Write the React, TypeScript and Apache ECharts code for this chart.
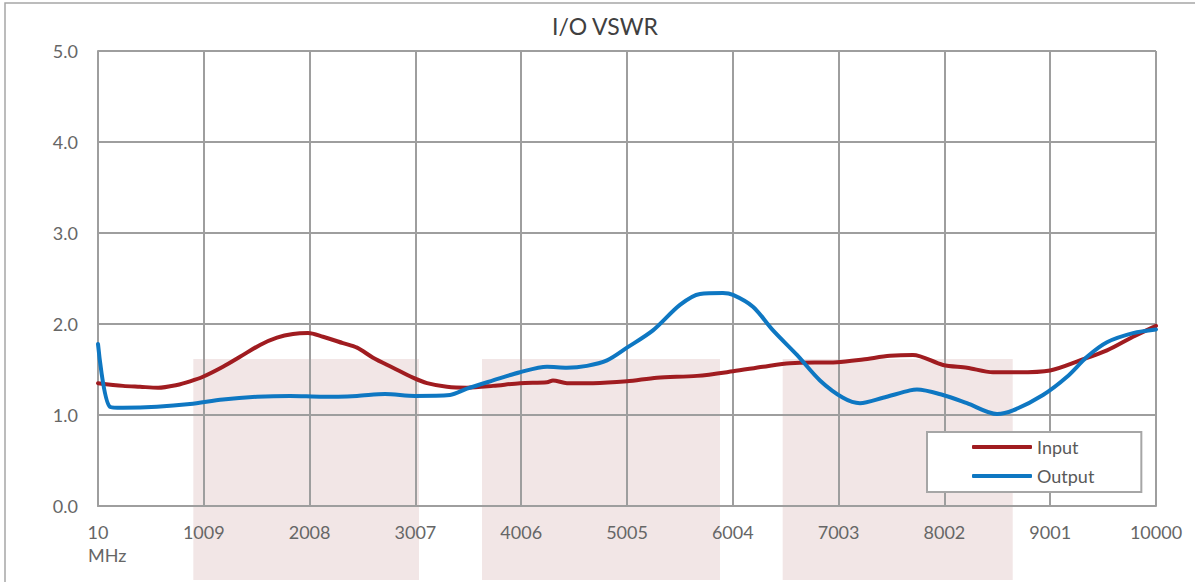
import React, { useEffect, useRef } from "react";
import * as echarts from "echarts";

const TITLE = "I/O VSWR";
const X_UNIT = "MHz";
const SERIES_NAMES = ["Input", "Output"];

// x tick labels (MHz), one per 999 MHz step
const xTickLabels = ["10", "1009", "2008", "3007", "4006", "5005", "6004", "7003", "8002", "9001", "10000"];
const X_START = 10;
const X_STEP = 999;
const X_END = 10000;

const Y_MIN = 0;
const Y_MAX = 5;
const Y_STEP = 1;

const inputFreq = [10, 246, 407, 577, 756, 879, 1001, 1190, 1351, 1540, 1700, 1851, 1993, 2134, 2323, 2456, 2607, 2795, 2984, 3117, 3305, 3494, 3740, 3995, 4250, 4306, 4438, 4684, 5005, 5288, 5666, 6006, 6289, 6544, 6988, 7233, 7488, 7705, 7989, 8215, 8461, 8688, 9000, 9282, 9537, 9783, 10000];
const inputVswr = [1.35, 1.32, 1.31, 1.30, 1.33, 1.37, 1.42, 1.53, 1.64, 1.77, 1.85, 1.89, 1.90, 1.86, 1.79, 1.74, 1.63, 1.52, 1.41, 1.35, 1.31, 1.30, 1.32, 1.35, 1.36, 1.38, 1.35, 1.35, 1.37, 1.41, 1.43, 1.48, 1.53, 1.57, 1.58, 1.61, 1.65, 1.66, 1.55, 1.52, 1.47, 1.47, 1.49, 1.60, 1.71, 1.86, 1.98];

const outputFreq = [10, 123, 246, 567, 879, 1190, 1511, 1823, 2134, 2456, 2720, 3003, 3334, 3494, 3740, 3995, 4250, 4438, 4627, 4816, 5005, 5250, 5505, 5694, 5911, 6006, 6194, 6384, 6610, 6827, 7045, 7205, 7422, 7677, 7743, 7989, 8215, 8499, 8650, 8933, 9160, 9349, 9537, 9783, 10000];
const outputVswr = [1.78, 1.09, 1.08, 1.09, 1.12, 1.17, 1.20, 1.21, 1.20, 1.21, 1.23, 1.21, 1.22, 1.29, 1.38, 1.47, 1.53, 1.52, 1.54, 1.60, 1.74, 1.93, 2.21, 2.33, 2.34, 2.32, 2.19, 1.93, 1.66, 1.38, 1.19, 1.13, 1.19, 1.27, 1.28, 1.22, 1.13, 1.01, 1.05, 1.22, 1.42, 1.64, 1.80, 1.90, 1.94];

// shaded frequency bands (MHz) and their top (VSWR)
const bandStart = [910, 3636, 6475];
const bandEnd = [3041, 5883, 8647];
const bandTop = 1.615;

const FONT = "Lato";
const GRID_COLOR = "#9e9e9e";
const LABEL_COLOR = "#666666";

export default function App() {
  const ref = useRef<HTMLDivElement>(null);

  useEffect(() => {
    if (!ref.current) return;
    const chart = echarts.init(ref.current, null, { renderer: "svg" });
    const toPts = (f: number[], v: number[]) => f.map((x, i) => [x - X_START, v[i]]);

    chart.setOption({
      animation: false,
      backgroundColor: "#ffffff",
      title: {
        text: TITLE,
        left: 552,
        top: 14,
        padding: 0,
        textStyle: { fontFamily: FONT, fontSize: 23, fontWeight: "normal", color: "#404040" },
      },
      grid: { left: 98, right: 39, top: 51, bottom: 76, containLabel: false },
      legend: {
        data: SERIES_NAMES,
        orient: "vertical",
        left: 927,
        top: 432,
        padding: [5, 47, 6, 45],
        itemGap: 9,
        itemWidth: 60,
        itemHeight: 4,
        icon: "roundRect",
        backgroundColor: "#ffffff",
        borderColor: "#a6a6a6",
        borderWidth: 2,
        borderRadius: 0,
        textStyle: { fontFamily: FONT, fontSize: 18, color: "#595959", lineHeight: 20, padding: [0, 0, 0, 0] },
      },
      xAxis: {
        type: "value",
        min: 0,
        max: X_END - X_START,
        interval: X_STEP,
        axisLine: { show: true, lineStyle: { color: GRID_COLOR, width: 2 } },
        axisTick: { show: false },
        splitLine: { show: true, lineStyle: { color: GRID_COLOR, width: 2 } },
        axisLabel: {
          margin: 17,
          fontFamily: FONT,
          fontSize: 18,
          color: LABEL_COLOR,
          formatter: (v: number) => xTickLabels[Math.round(v / X_STEP)] ?? "",
        },
      },
      yAxis: {
        type: "value",
        min: Y_MIN,
        max: Y_MAX,
        interval: Y_STEP,
        axisLine: { show: true, lineStyle: { color: GRID_COLOR, width: 2 } },
        axisTick: { show: false },
        splitLine: { show: true, lineStyle: { color: GRID_COLOR, width: 2 } },
        axisLabel: {
          margin: 20,
          fontFamily: FONT,
          fontSize: 18,
          color: LABEL_COLOR,
          formatter: (v: number) => v.toFixed(1),
        },
      },
      series: [
        {
          name: SERIES_NAMES[0],
          type: "line",
          data: toPts(inputFreq, inputVswr),
          symbol: "none",
          smooth: 0.3,
          z: 3,
          lineStyle: { color: "#a01c20", width: 4, cap: "round", join: "round" },
          itemStyle: { color: "#a01c20" },
        },
        {
          name: SERIES_NAMES[1],
          type: "line",
          data: toPts(outputFreq, outputVswr),
          symbol: "none",
          smooth: 0.3,
          z: 4,
          lineStyle: { color: "#0e77c2", width: 4, cap: "round", join: "round" },
          itemStyle: { color: "#0e77c2" },
        },
      ],
    });

    const elements: any[] = [];
    for (let i = 0; i < bandStart.length; i++) {
      const p1 = chart.convertToPixel({ gridIndex: 0 }, [bandStart[i] - X_START, bandTop]) as number[];
      const p2 = chart.convertToPixel({ gridIndex: 0 }, [bandEnd[i] - X_START, 0]) as number[];
      elements.push({
        type: "rect",
        z: -10,
        silent: true,
        shape: { x: p1[0], y: p1[1], width: p2[0] - p1[0], height: 580 - p1[1] },
        style: { fill: "#f2e6e6" },
      });
    }
    const origin = chart.convertToPixel({ gridIndex: 0 }, [0, 0]) as number[];
    elements.push({
      type: "text",
      z: 10,
      silent: true,
      x: origin[0] - 10,
      y: origin[1] + 40,
      style: { text: X_UNIT, fontFamily: FONT, fontSize: 18, fill: LABEL_COLOR },
    });
    elements.push({
      type: "rect",
      z: -5,
      silent: true,
      shape: { x: 5, y: 3, width: 1300, height: 700 },
      style: { fill: "none", stroke: "#a6a6a6", lineWidth: 1.5 },
    });
    chart.setOption({ graphic: { elements } });

    return () => chart.dispose();
  }, []);

  return (
    <div
      ref={ref}
      style={{ position: "absolute", left: 0, top: 0, width: 1195, height: 582 }}
    />
  );
}
